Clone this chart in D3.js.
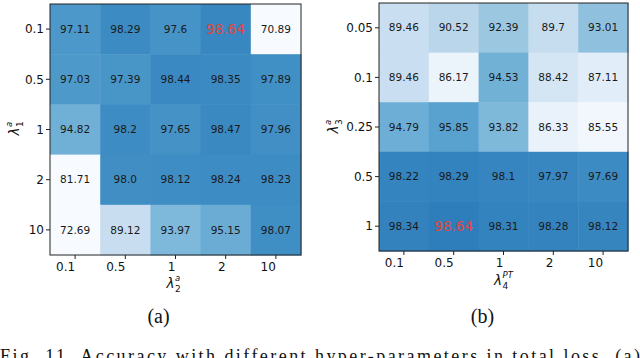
<!DOCTYPE html>
<html>
<head>
<meta charset="utf-8">
<script src="https://cdn.jsdelivr.net/npm/d3@7"></script>
<style>
  body { margin: 0; background: #fff; }
  svg { display: block; }
</style>
</head>
<body>
<div id="chart"></div>
<script>
// data
const xTicksA = ["0.1", "0.5", "1", "2", "10"];
const yTicksA = ["0.1", "0.5", "1", "2", "10"];
const valuesA = [
  [97.11, 98.29, 97.6, 98.64, 70.89],
  [97.03, 97.39, 98.44, 98.35, 97.89],
  [94.82, 98.2, 97.65, 98.47, 97.96],
  [81.71, 98.0, 98.12, 98.24, 98.23],
  [72.69, 89.12, 93.97, 95.15, 98.07]
];
const xTicksB = ["0.1", "0.5", "1", "2", "10"];
const yTicksB = ["0.05", "0.1", "0.25", "0.5", "1"];
const valuesB = [
  [89.46, 90.52, 92.39, 89.7, 93.01],
  [89.46, 86.17, 94.53, 88.42, 87.11],
  [94.79, 95.85, 93.82, 86.33, 85.55],
  [98.22, 98.29, 98.1, 97.97, 97.69],
  [98.34, 98.64, 98.31, 98.28, 98.12]
];

const W = 640, H = 358;
const svg = d3.select("#chart").append("svg")
  .attr("width", W).attr("height", H);

const fmt = v => String(v).indexOf(".") < 0 ? v.toFixed(1) : String(v);

function heatmap(opt) {
  const x = d3.scaleBand().domain(opt.xTicks).range([opt.left, opt.right]);
  const y = d3.scaleBand().domain(opt.yTicks).range([opt.top, opt.bottom]);
  const color = d3.scaleSequential(d3.interpolateBlues).domain(opt.cdomain).clamp(true);
  const best = d3.max(opt.values.flat());

  const cells = [];
  opt.values.forEach((row, i) => row.forEach((v, j) => {
    cells.push({ r: opt.yTicks[i], c: opt.xTicks[j], v: v });
  }));

  const g = svg.append("g");
  g.selectAll("rect.cell")
    .data(cells)
    .join("rect")
    .attr("class", "cell")
    .attr("x", d => x(d.c))
    .attr("y", d => y(d.r))
    .attr("width", x.bandwidth() + 0.5)
    .attr("height", y.bandwidth() + 0.5)
    .attr("fill", d => color(d.v));

  g.selectAll("text.val")
    .data(cells)
    .join("text")
    .attr("class", "val")
    .attr("x", d => x(d.c) + x.bandwidth() / 2)
    .attr("y", d => y(d.r) + y.bandwidth() / 2)
    .attr("dy", "0.35em")
    .attr("text-anchor", "middle")
    .style("font-family", "DejaVu Sans")
    .style("font-size", d => d.v === best ? "13.5px" : "10.5px")
    .attr("fill", d => d.v === best ? "#e0463c" : "#1a1a1a")
    .text(d => fmt(d.v));

  // frame
  g.append("rect")
    .attr("x", opt.left).attr("y", opt.top)
    .attr("width", opt.right - opt.left).attr("height", opt.bottom - opt.top)
    .attr("fill", "none").attr("stroke", "#222").attr("stroke-width", 1);

  // y axis ticks
  g.selectAll("line.yt")
    .data(opt.yTicks)
    .join("line")
    .attr("x1", opt.left - 4).attr("x2", opt.left)
    .attr("y1", d => y(d) + y.bandwidth() / 2)
    .attr("y2", d => y(d) + y.bandwidth() / 2)
    .attr("stroke", "#222");
  g.selectAll("text.yt")
    .data(opt.yTicks)
    .join("text")
    .attr("x", opt.left - 6)
    .attr("y", d => y(d) + y.bandwidth() / 2)
    .attr("dy", "0.35em")
    .attr("text-anchor", "end")
    .style("font-family", "DejaVu Sans")
    .style("font-size", "12px")
    .attr("fill", "#111")
    .text(d => d);

  // x axis ticks (labels right aligned at the tick, as in the source)
  g.selectAll("line.xt")
    .data(opt.xTicks)
    .join("line")
    .attr("x1", d => x(d) + x.bandwidth() / 2)
    .attr("x2", d => x(d) + x.bandwidth() / 2)
    .attr("y1", opt.bottom).attr("y2", opt.bottom + 4)
    .attr("stroke", "#222");
  g.selectAll("text.xt")
    .data(opt.xTicks)
    .join("text")
    .attr("x", d => x(d) + x.bandwidth() / 2)
    .attr("y", opt.bottom + 12)
    .attr("dy", "0.35em")
    .attr("text-anchor", "end")
    .style("font-family", "DejaVu Sans")
    .style("font-size", "12px")
    .attr("fill", "#111")
    .text(d => d);

  // axis labels
  symbol(g, opt.xlab.x, opt.xlab.y, 0, opt.xlab.sub, opt.xlab.sup);
  symbol(g, opt.ylab.x, opt.ylab.y, -90, opt.ylab.sub, opt.ylab.sup);

  svg.append("text")
    .attr("x", (opt.left + opt.right) / 2 + opt.capDx)
    .attr("y", 323)
    .attr("text-anchor", "middle")
    .style("font-family", "Liberation Serif")
    .style("font-size", "20px")
    .attr("fill", "#111")
    .text(opt.caption);
}

// lambda with stacked sub/superscript, centered at (cx, cy)
function symbol(g, cx, cy, rot, sub, sup) {
  const s = g.append("g").attr("transform", `translate(${cx},${cy}) rotate(${rot})`);
  const w = 8 + Math.max(sub.length, sup.length) * 5;
  const x0 = -w / 2;
  s.append("text").attr("x", x0).attr("y", 5)
    .style("font-family", "DejaVu Sans").style("font-style", "oblique").style("font-size", "13.5px")
    .attr("fill", "#111").text("λ");
  s.append("text").attr("x", x0 + 8.5).attr("y", 9)
    .style("font-family", "DejaVu Sans").style("font-size", "9px")
    .attr("fill", "#111").text(sub);
  s.append("text").attr("x", x0 + 8.5).attr("y", -2)
    .style("font-family", "DejaVu Sans").style("font-style", "oblique").style("font-size", "8.5px")
    .attr("fill", "#111").text(sup);
}

heatmap({
  xTicks: xTicksA, yTicks: yTicksA, values: valuesA,
  left: 50, right: 301, top: 4, bottom: 255,
  cdomain: [84, 106],
  xlab: { x: 173, y: 283, sub: "2", sup: "a" },
  ylab: { x: 14, y: 129, sub: "1", sup: "a" },
  caption: "(a)", capDx: -17
});

heatmap({
  xTicks: xTicksB, yTicks: yTicksB, values: valuesB,
  left: 379, right: 628, top: 3, bottom: 251,
  cdomain: [85, 104.5],
  xlab: { x: 503, y: 280, sub: "4", sup: "PT" },
  ylab: { x: 333, y: 127, sub: "3", sup: "a" },
  caption: "(b)", capDx: -21
});

// figure caption line, cut by the bottom edge as in the source
svg.append("text")
  .attr("x", 0)
  .attr("y", 362)
  .attr("textLength", 640)
  .attr("lengthAdjust", "spacing")
  .style("font-family", "Liberation Serif")
  .style("font-size", "18px")
  .attr("fill", "#111")
  .text("Fig. 11.  Accuracy with different hyper-parameters in total loss. (a)");
</script>
</body>
</html>
